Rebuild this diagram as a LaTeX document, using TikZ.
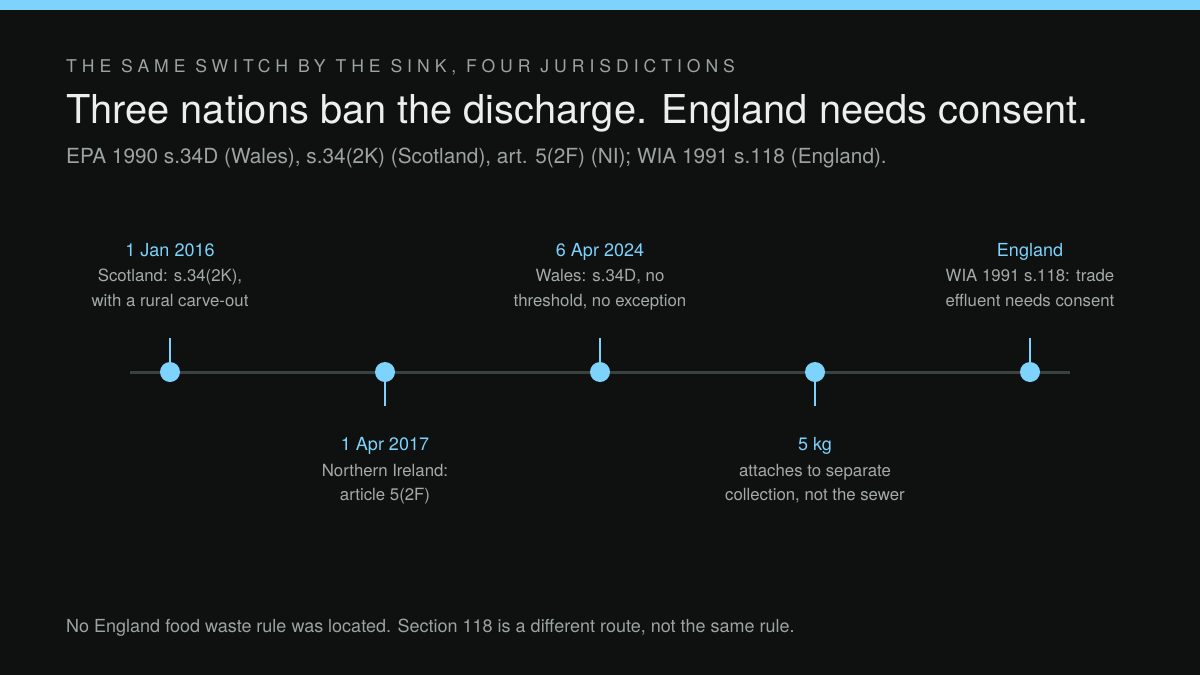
\documentclass[tikz,border=0pt]{standalone}
\usepackage{fontspec}
\setmainfont{TeX Gyre Heros}
\definecolor{bg}{HTML}{0F1111}
\definecolor{accent}{HTML}{7DD3FC}
\definecolor{axisc}{HTML}{3A423D}
\definecolor{titlec}{HTML}{EDEEED}
\definecolor{mutec}{HTML}{9BA49F}
\definecolor{descc}{HTML}{A3ABA6}
\tikzset{
  txt/.style={inner sep=0pt, anchor=base},
  kicker/.style={txt, anchor=base west, text=mutec, font=\fontsize{17.6}{20}\selectfont\addfontfeature{LetterSpace=28.2}},
  headline/.style={txt, anchor=base west, text=titlec, font=\fontsize{39.8}{44}\selectfont},
  subline/.style={txt, anchor=base west, text=mutec, font=\fontsize{20.8}{24}\selectfont},
  datelbl/.style={txt, text=accent, font=\fontsize{18}{20}\selectfont},
  desclbl/.style={txt, text=descc, font=\fontsize{16.8}{20}\selectfont},
  footlbl/.style={txt, anchor=base west, text=mutec, font=\fontsize{18}{20}\selectfont},
  dot/.style={circle, fill=accent, inner sep=0pt, minimum size=20pt},
  tickline/.style={draw=accent, line width=2pt},
  axisline/.style={draw=axisc, line width=3pt},
}
\begin{document}
\begin{tikzpicture}[x=1pt,y=-1pt]
\fill[bg] (0,0) rectangle (1200,675);
\useasboundingbox (0,0) rectangle (1200,675);
\fill[accent] (0,0) rectangle (1200,10);

\node[kicker] (kick) at (66,72) {THE SAME SWITCH BY THE SINK, FOUR JURISDICTIONS};
\node[headline] (head) at (66,123) {Three nations ban the discharge. England needs consent.};
\node[subline] (sub) at (66,163) {EPA 1990 s.34D (Wales), s.34(2K) (Scotland), art. 5(2F) (NI); WIA 1991 s.118 (England).};

% axis
\coordinate (ls) at (130,372);
\coordinate (le) at (1070,372);
\draw[axisline] (ls) -- (le);

% tick ends
\coordinate (t1) at (170,338);
\coordinate (t2) at (385,406);
\coordinate (t3) at (600,338);
\coordinate (t4) at (815,406);
\coordinate (t5) at (1030,338);

\node[dot] (d1) at (170,372) {};
\node[dot] (d2) at (385,372) {};
\node[dot] (d3) at (600,372) {};
\node[dot] (d4) at (815,372) {};
\node[dot] (d5) at (1030,372) {};

\draw[tickline] (t1) -- (d1.north);
\draw[tickline] (t2) -- (d2.south);
\draw[tickline] (t3) -- (d3.north);
\draw[tickline] (t4) -- (d4.south);
\draw[tickline] (t5) -- (d5.north);

% labels above
\node[datelbl] (l1) at (170,256) {1 Jan 2016};
\node[desclbl] (l1a) at (170,281) {Scotland: s.34(2K),};
\node[desclbl] (l1b) at (170,306) {with a rural carve-out};

\node[datelbl] (l3) at (600,256) {6 Apr 2024};
\node[desclbl] (l3a) at (600,281) {Wales: s.34D, no};
\node[desclbl] (l3b) at (600,306) {threshold, no exception};

\node[datelbl] (l5) at (1030,256) {England};
\node[desclbl] (l5a) at (1030,281) {WIA 1991 s.118: trade};
\node[desclbl] (l5b) at (1030,306) {effluent needs consent};

% labels below
\node[datelbl] (l2) at (385,450) {1 Apr 2017};
\node[desclbl] (l2a) at (385,476) {Northern Ireland:};
\node[desclbl] (l2b) at (385,500) {article 5(2F)};

\node[datelbl] (l4) at (815,450) {5 kg};
\node[desclbl] (l4a) at (815,476) {attaches to separate};
\node[desclbl] (l4b) at (815,500) {collection, not the sewer};

\node[footlbl] (foot) at (66,632) {No England food waste rule was located. Section 118 is a different route, not the same rule.};
\end{tikzpicture}
\end{document}
